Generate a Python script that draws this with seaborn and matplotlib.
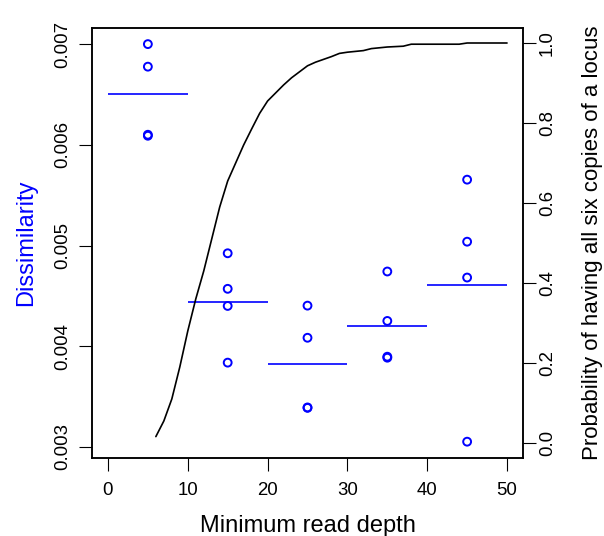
import matplotlib
matplotlib.use("Agg")
import matplotlib.pyplot as plt
import seaborn as sns
import numpy as np
import pandas as pd

# ---- data ----
depth_groups = [5, 5, 5, 5, 15, 15, 15, 15, 25, 25, 25, 25, 35, 35, 35, 35, 45, 45, 45, 45]
dissimilarity = [0.00700, 0.006776, 0.00610, 0.00609,
                 0.004923, 0.004570, 0.004400, 0.003837,
                 0.004403, 0.004084, 0.003392, 0.003388,
                 0.004742, 0.004251, 0.003896, 0.003886,
                 0.005654, 0.005038, 0.004682, 0.003052]
mean_centers = [5, 15, 25, 35, 45]
mean_values = [0.00650, 0.004435, 0.003820, 0.004198, 0.004607]
bin_halfwidth = 5

curve_depth = list(range(6, 51))
curve_prob = [0.016, 0.055, 0.11, 0.19, 0.28, 0.36, 0.43, 0.51, 0.59, 0.655,
              0.70, 0.745, 0.785, 0.824, 0.855, 0.875, 0.895, 0.913, 0.928, 0.943,
              0.952, 0.959, 0.966, 0.974, 0.977, 0.979, 0.981, 0.986, 0.988, 0.990,
              0.991, 0.992, 0.997, 0.997, 0.997, 0.997, 0.997, 0.997, 0.997, 1.0,
              1.0, 1.0, 1.0, 1.0, 1.0]

x_ticks = [0, 10, 20, 30, 40, 50]
left_ticks = [0.003, 0.004, 0.005, 0.006, 0.007]
right_ticks = [0.0, 0.2, 0.4, 0.6, 0.8, 1.0]

sns.set_style("ticks")
plt.rcParams['font.family'] = ['Liberation Sans', 'DejaVu Sans']
plt.rcParams['text.color'] = 'black'
plt.rcParams['axes.labelcolor'] = 'black'
plt.rcParams['xtick.color'] = 'black'
plt.rcParams['ytick.color'] = 'black'

fig = plt.figure(figsize=(6.04, 5.36), dpi=100)
ax = fig.add_axes([92 / 604, 1 - 458 / 536, (523 - 92) / 604, (458 - 28) / 536])

pts = pd.DataFrame({"depth": depth_groups, "dis": dissimilarity})
sns.scatterplot(data=pts, x="depth", y="dis", ax=ax, marker="o", s=32,
                facecolor="none", edgecolor="#0000ff", linewidth=1.4, zorder=3)
means = pd.DataFrame({"c": mean_centers, "m": mean_values})
ax.hlines(means["m"], means["c"] - bin_halfwidth, means["c"] + bin_halfwidth,
          color="#0000ff", linewidth=1.2)

ax.set_xlim(-2, 52)
ax.set_ylim(0.00289, 0.00716)
ax.set_xticks(x_ticks)
ax.set_xticklabels([str(v) for v in x_ticks])
ax.set_yticks(left_ticks)
ax.set_yticklabels([f"{v:.3f}" for v in left_ticks], rotation=90, va="center")
ax.tick_params(axis="both", direction="out", length=9.5, width=0.8, colors="black",
               labelcolor="black", labelsize=13.4)
ax.tick_params(axis="x", pad=8)
ax.tick_params(axis="y", pad=5.5)
ax.set_xlabel("Minimum read depth", fontsize=17, labelpad=11, color="black")
ax.set_ylabel("Dissimilarity", fontsize=17, color="#0000ff", labelpad=12)

ax2 = ax.twinx()
curve = pd.DataFrame({"d": curve_depth, "p": curve_prob})
sns.lineplot(data=curve, x="d", y="p", ax=ax2, color="black", linewidth=1.2)
ax2.set_ylim(-0.0375, 1.0375)
ax2.set_yticks(right_ticks)
ax2.set_yticklabels([f"{v:.1f}" for v in right_ticks], rotation=90, va="center")
ax2.tick_params(axis="y", direction="out", length=9.5, width=0.8, colors="black",
                labelcolor="black", labelsize=13.4, pad=2)
ax2.set_ylabel("Probability of having all six copies of a locus", fontsize=16,
               rotation=90, labelpad=19, color="black")
ax2.set_xlabel("")

for a in (ax, ax2):
    for sp in a.spines.values():
        sp.set_visible(True)
        sp.set_linewidth(1.1)
        sp.set_color("black")

fig.savefig("out.png", dpi=100)
